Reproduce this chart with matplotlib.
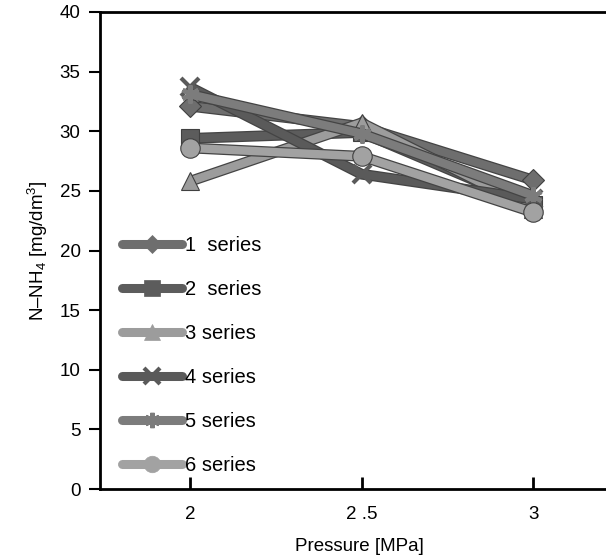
import matplotlib
matplotlib.use("Agg")
import matplotlib.pyplot as plt
import matplotlib.patheffects as pe
from matplotlib.lines import Line2D

plt.rcParams['font.family'] = ['Liberation Sans', 'DejaVu Sans']
plt.rcParams['mathtext.fontset'] = 'custom'
plt.rcParams['mathtext.rm'] = 'Liberation Sans'
plt.rcParams['mathtext.it'] = 'Liberation Sans'

pressure = [2.0, 2.5, 3.0]
x_tick_values = [2.0, 2.5, 3.0]
x_tick_labels = ["2", "2 .5", "3"]
y_ticks = [0, 5, 10, 15, 20, 25, 30, 35, 40]

series_labels = ["1  series", "2  series", "3 series", "4 series", "5 series", "6 series"]
s1 = [32.1, 30.4, 25.9]
s2 = [29.4, 29.9, 23.8]
s3 = [25.8, 30.7, 23.5]
s4 = [33.7, 26.4, 24.3]
s5 = [33.1, 29.8, 24.6]
s6 = [28.6, 27.9, 23.2]
series_values = [s1, s2, s3, s4, s5, s6]

colors = ['#6e6e6e', '#5c5c5c', '#9c9c9c', '#5a5a5a', '#7c7c7c', '#a2a2a2']
markers = ['D', 's', '^', 'x', (6, 2, 0), 'o']
msizes = [11, 13, 13, 13, 13, 14]

FS = 13.5
LFS = 14.5
fig = plt.figure(figsize=(6.06, 5.58), dpi=100)
ax = fig.add_axes([100/606, 69/558, 519/606, 477/558])

handles = []
for vals, lab, c, m, ms in zip(series_values, series_labels, colors, markers, msizes):
    line, = ax.plot(pressure, vals, color=c, lw=6, solid_capstyle='butt')
    line.set_path_effects([pe.Stroke(linewidth=7.8, foreground='#444444'), pe.Normal()])
    star = m in ('x', (6, 2, 0))
    ax.plot(pressure, vals, ls='none', marker=m, markersize=ms,
            markerfacecolor=c, markeredgecolor=(c if star else '#404040'),
            markeredgewidth=(3 if star else 0.8))
    handles.append(Line2D([], [], color=c, lw=6.5, marker=m, markersize=ms * 0.85,
                          markerfacecolor=c, markeredgecolor=c, solid_capstyle='round',
                          markeredgewidth=(3 if star else 0.5), label=lab))

ax.set_xlim(1.738, 3.25)
ax.set_ylim(0, 40)
ax.set_xticks(x_tick_values)
ax.set_xticklabels(x_tick_labels)
ax.set_yticks(y_ticks)
ax.tick_params(axis='x', direction='in', length=9, width=2, labelsize=FS, pad=12)
ax.tick_params(axis='y', direction='out', length=8, width=1.5, labelsize=FS, pad=6)
for s in ['left', 'bottom', 'top']:
    ax.spines[s].set_linewidth(2)
ax.spines['right'].set_visible(False)

ax.set_xlabel('Pressure [MPa]', fontsize=FS, labelpad=11)
ax.set_ylabel(r'N–NH$_4$ [mg/dm$^3$]', fontsize=FS, labelpad=7)

leg = ax.legend(handles=handles, loc='upper left', bbox_to_anchor=(122/606, 1 - 236/558),
                bbox_transform=fig.transFigure, frameon=False, fontsize=LFS,
                handlelength=3.0, handletextpad=0.15, labelspacing=1.24,
                borderpad=0, borderaxespad=0)

fig.savefig('out.png', dpi=100)
